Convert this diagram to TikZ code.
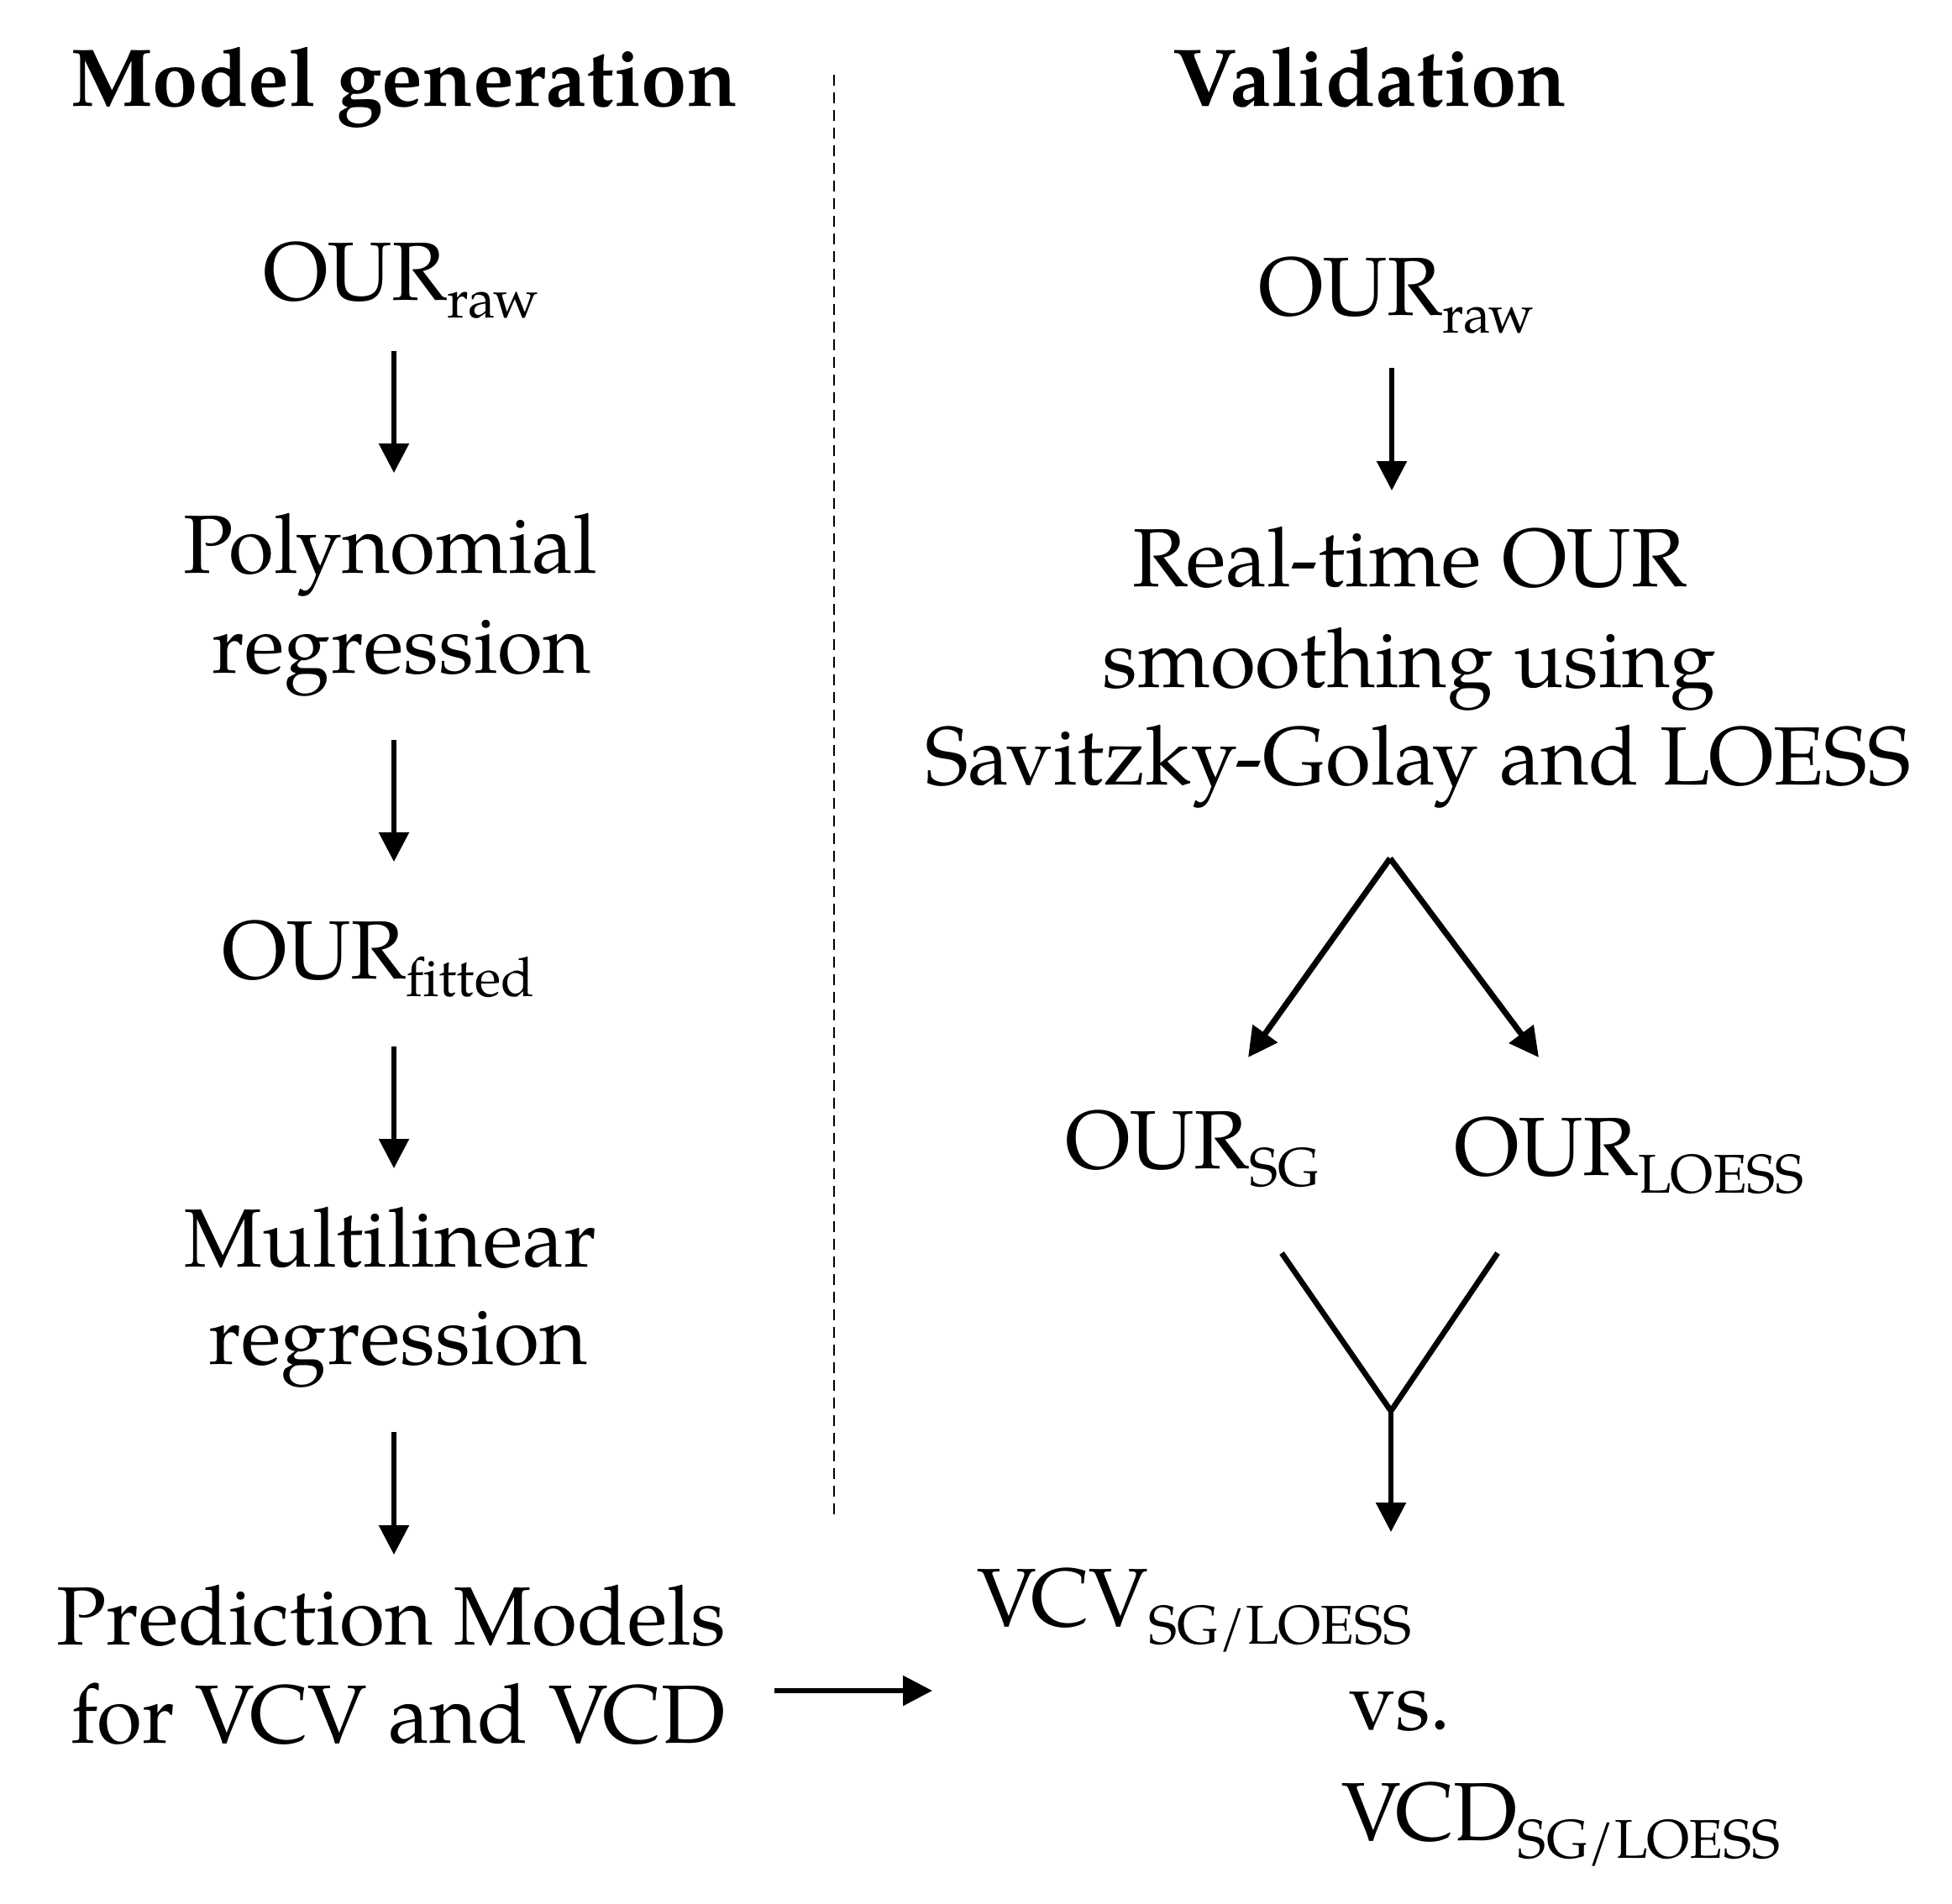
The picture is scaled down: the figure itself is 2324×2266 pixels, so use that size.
\documentclass[tikz,border=0pt]{standalone}
\usepackage{fontspec}
\setmainfont{TeX Gyre Pagella}
\usetikzlibrary{arrows.meta}
\newcommand\subtx[1]{\raisebox{-6.5pt}{\fontsize{19.5}{20}\selectfont #1}}
\begin{document}
\begin{tikzpicture}[x=0.3pt,y=-0.3pt,
  txt/.style={inner sep=0pt, outer sep=0pt, font=\fontsize{29.5}{36}\selectfont},
  ttl/.style={inner sep=0pt, outer sep=0pt, font=\fontsize{29.3}{36}\selectfont\bfseries},
  arr/.style={line width=1.7pt, -{Triangle[length=10.5pt,width=10.5pt]}},
  darr/.style={line width=2.1pt, -{Triangle[length=10.5pt,width=10.5pt]}},
  ln/.style={line width=2pt},
  sep/.style={line width=0.8pt, dash pattern=on 3.8pt off 2.5pt}]
\useasboundingbox (0,0) rectangle (2324,2266);
% titles
\node[ttl, anchor=base] (tmg) at (481,126) {Model generation};
\node[ttl, anchor=base] (tval) at (1631,126) {Validation};
\draw[sep] (993,89) coordinate (sepA) -- (993,1810) coordinate (sepB);
% left column
\node[txt, anchor=base west] (ourL) at (313,357) {OUR\subtx{raw}};
\node[txt, anchor=base] (poly1) at (465,682) {Polynomial};
\node[txt, anchor=base] (poly2) at (478,801) {regression};
\node[txt, anchor=base west] (ourF) at (264,1165) {OUR\subtx{fitted}};
\node[txt, anchor=base] (mult1) at (465,1508) {Multilinear};
\node[txt, anchor=base] (mult2) at (474,1624) {regression};
\node[txt, anchor=base] (pred1) at (466,1958) {Prediction Models};
\node[txt, anchor=base] (pred2) at (474,2075) {for VCV and VCD};
\coordinate (a1s) at (469,418); \coordinate (a1e) at (469,563);
\coordinate (a2s) at (469,881); \coordinate (a2e) at (469,1026);
\coordinate (a3s) at (469,1246); \coordinate (a3e) at (469,1391);
\coordinate (a4s) at (469,1705); \coordinate (a4e) at (469,1851);
\draw[arr] (a1s) -- (a1e);
\draw[arr] (a2s) -- (a2e);
\draw[arr] (a3s) -- (a3e);
\draw[arr] (a4s) -- (a4e);
\coordinate (hs) at (922,2013); \coordinate (he) at (1110,2013);
\draw[arr] (hs) -- (he);
% right column
\node[txt, anchor=base west] (ourR) at (1498,375) {OUR\subtx{raw}};
\node[txt, anchor=base] (rt1) at (1678,698) {Real-time OUR};
\node[txt, anchor=base] (rt2) at (1678,818) {smoothing using};
\node[txt, anchor=base] (rt3) at (1688,934) {Savitzky-Golay and LOESS};
\coordinate (a5s) at (1657,438); \coordinate (a5e) at (1657,584);
\draw[arr] (a5s) -- (a5e);
\coordinate (apex) at (1655,1022);
\coordinate (bl) at (1486,1259); \coordinate (br) at (1832,1259);
\draw[darr] (apex) -- (bl);
\draw[darr] (apex) -- (br);
\node[txt, anchor=base west] (ourSG) at (1268,1391) {OUR\subtx{SG}};
\node[txt, anchor=base west] (ourLO) at (1731,1399) {OUR\subtx{LOESS}};
\coordinate (yl) at (1526,1492); \coordinate (yr) at (1783,1492);
\coordinate (yj) at (1656,1680); \coordinate (ye) at (1656,1824);
\draw[ln, line join=miter] (yl) -- (yj) -- (yr);
\draw[arr] (yj) -- (ye);
\node[txt, anchor=base west] (vcv) at (1163,1936) {VCV\subtx{SG/LOESS}};
\node[txt, anchor=base] (vs) at (1667,2059) {vs.};
\node[txt, anchor=base west] (vcd) at (1597,2191) {VCD\subtx{SG/LOESS}};
\end{tikzpicture}
\end{document}
